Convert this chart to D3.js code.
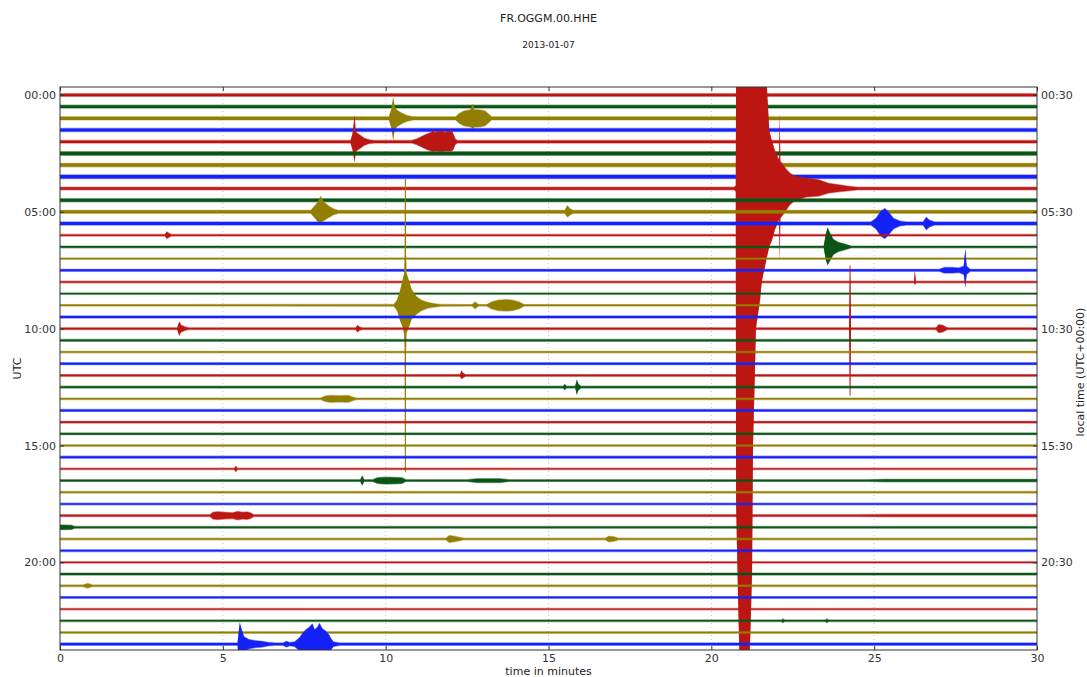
<!DOCTYPE html>
<html>
<head>
<meta charset="utf-8">
<script src="https://cdn.jsdelivr.net/npm/d3@7"></script>
<style>
  body { margin: 0; background: #fff; }
  svg { display: block; font-family: "DejaVu Sans", sans-serif; }
</style>
</head>
<body>
<svg id="chart" width="1087" height="677"></svg>
<script>
// Station and day shown in the heading
const stationTitle = "FR.OGGM.00.HHE";
const dayLabel = "2013-01-07";

// Axis ticks
const minuteTicks = [0, 5, 10, 15, 20, 25, 30];
const utcTickRows = [0, 10, 20, 30, 40];
const utcTickLabels = ["00:00", "05:00", "10:00", "15:00", "20:00"];
const localTickLabels = ["00:30", "05:30", "10:30", "15:30", "20:30"];

// Trace colours cycle every four half-hour rows
const traceColors = ["#BC1612", "#0A5516", "#927E00", "#1422F8"];

// Background noise half-amplitude of each half-hour row (in row spacings)
const noiseLevel = [
  0.17, 0.18, 0.19, 0.19, 0.17, 0.21, 0.21, 0.21, 0.17, 0.19, 0.19, 0.19,
  0.13, 0.13, 0.12, 0.14, 0.13, 0.12, 0.12, 0.14,
  0.13, 0.14, 0.12, 0.14, 0.13, 0.13, 0.12, 0.14, 0.13, 0.13, 0.12, 0.14,
  0.12, 0.13, 0.12, 0.13, 0.14, 0.13, 0.12, 0.13, 0.12, 0.14, 0.12, 0.13, 0.12, 0.13, 0.12, 0.16
];

// Teleseismic arrival on the 04:00 row: [minute, up, down]
const quake0400 = [
  [20.7, 0.17], [20.75, 0.3], [20.76, 9.5, 27], [20.82, 9.5, 35], [20.88, 9.5, 42],
  [21.15, 9.5, 42], [21.2, 9.5, 38], [21.25, 9.5, 33], [21.28, 9.5, 22],
  [21.34, 9.5, 15.5], [21.37, 9.5, 12], [21.5, 9.5, 9.5], [21.55, 9.5, 8],
  [21.7, 9, 6], [21.78, 5, 5], [21.86, 4.1, 4.5], [21.95, 3.3, 3.6],
  [22.08, 2.5, 2.7], [22.1, 6.5, 6.3], [22.12, 2.4, 2.6], [22.3, 1.7, 1.9],
  [22.4, 1.4, 1.5], [22.55, 1.1, 1.1], [22.9, 0.95, 0.8], [23.3, 0.8, 0.7],
  [23.6, 0.5, 0.45], [23.9, 0.38, 0.35], [24.2, 0.25], [24.5, 0.17]
];

// Local event on the 09:00 row with its long single-sample spike
const local0900 = [
  [10.25, 0.13], [10.35, 0.5], [10.45, 1.4], [10.52, 2.2, 1.9], [10.57, 2.8, 2.5],
  [10.585, 4.5, 4], [10.59, 10.9, 14.3], [10.62, 10.9, 14.3], [10.625, 4.5, 4],
  [10.64, 2.8, 2.4], [10.7, 2.3, 2.0], [10.8, 1.4, 1.2], [10.95, 0.8],
  [11.1, 0.5], [11.3, 0.3], [11.5, 0.2], [11.7, 0.13]
];

// Other transients: [row, [[minute, up, down], ...]]
const events = [
  [2, [[10.1, 0.19], [10.18, 0.9], [10.23, 1.85, 1.9], [10.28, 1.0], [10.35, 0.75], [10.5, 0.5], [10.65, 0.3], [10.85, 0.19]]],
  [2, [[12.15, 0.19], [12.25, 0.45], [12.4, 0.7], [12.6, 0.78], [12.68, 1.3, 0.9], [12.72, 0.8], [12.9, 0.78], [13.05, 0.7], [13.15, 0.45], [13.25, 0.19]]],
  [4, [[8.92, 0.17], [8.98, 0.7], [9.05, 2.3, 1.8], [9.08, 0.9], [9.15, 0.75], [9.25, 0.55], [9.35, 0.35], [9.5, 0.22], [9.65, 0.17]]],
  [4, [[10.8, 0.17], [10.95, 0.3], [11.1, 0.5], [11.25, 0.7], [11.4, 0.85], [11.45, 1.05, 0.9], [11.5, 0.85], [11.76, 1.0, 0.9], [11.8, 0.85], [12.03, 1.0, 0.85], [12.08, 0.7], [12.14, 0.3], [12.2, 0.17]]],
  [8, quake0400],
  [10, [[7.7, 0.19], [7.8, 0.5], [7.92, 0.9], [8.0, 1.4, 0.95], [8.1, 0.9, 0.8], [8.25, 0.55], [8.4, 0.3], [8.55, 0.19]]],
  [10, [[15.5, 0.19], [15.58, 0.6, 0.5], [15.65, 0.35], [15.75, 0.19]]],
  [11, [[24.9, 0.19], [25.05, 0.5], [25.2, 1.1], [25.33, 1.35], [25.45, 1.0], [25.6, 0.5], [25.8, 0.25], [26.0, 0.19]]],
  [11, [[26.5, 0.19], [26.6, 0.6], [26.7, 0.35], [26.85, 0.19]]],
  [12, [[3.22, 0.13], [3.28, 0.35], [3.33, 0.25], [3.42, 0.13]]],
  [13, [[23.45, 0.13], [23.52, 1.2], [23.57, 1.7, 1.6], [23.65, 1.2], [23.75, 0.7], [23.9, 0.45], [24.1, 0.3], [24.3, 0.13]]],
  [15, [[27.0, 0.14], [27.15, 0.3], [27.4, 0.3], [27.6, 0.25], [27.75, 0.4], [27.8, 1.9, 1.5], [27.84, 0.4], [27.95, 0.14]]],
  [16, [[26.22, 0.13], [26.25, 1.0, 0.3], [26.28, 0.13]]],
  [18, local0900],
  [18, [[12.65, 0.12], [12.75, 0.35], [12.85, 0.12]]],
  [18, [[13.1, 0.12], [13.25, 0.35], [13.45, 0.5], [13.7, 0.55], [13.9, 0.5], [14.1, 0.35], [14.25, 0.12]]],
  [20, [[3.6, 0.13], [3.66, 0.65], [3.72, 0.35], [3.85, 0.2], [3.95, 0.13]]],
  [20, [[9.08, 0.13], [9.13, 0.35], [9.2, 0.2], [9.28, 0.13]]],
  [20, [[24.23, 0.13], [24.25, 5.45, 5.77], [24.27, 5.45, 5.77], [24.29, 0.13]]],
  [20, [[26.9, 0.13], [26.98, 0.4], [27.1, 0.35], [27.25, 0.13]]],
  [24, [[12.28, 0.13], [12.33, 0.45, 0.35], [12.38, 0.25], [12.45, 0.13]]],
  [25, [[15.45, 0.13], [15.5, 0.3], [15.55, 0.13]]],
  [25, [[15.82, 0.13], [15.87, 0.7], [15.92, 0.3], [16.0, 0.13]]],
  [26, [[8.0, 0.12], [8.15, 0.3], [8.3, 0.35], [8.6, 0.33], [8.85, 0.35], [9.0, 0.2], [9.1, 0.12]]],
  [32, [[5.35, 0.12], [5.4, 0.3], [5.45, 0.12]]],
  [33, [[9.22, 0.13], [9.28, 0.47], [9.34, 0.13]]],
  [33, [[9.6, 0.13], [9.75, 0.3], [10.0, 0.35], [10.3, 0.33], [10.5, 0.3], [10.62, 0.13]]],
  [33, [[12.5, 0.13], [12.8, 0.22], [13.5, 0.22], [13.8, 0.13]]],
  [33, [[24.8, 0.13], [25.3, 0.165], [30, 0.165]]],
  [36, [[4.6, 0.14], [4.7, 0.35], [4.85, 0.4], [5.0, 0.35], [5.3, 0.3], [5.45, 0.42], [5.6, 0.35], [5.75, 0.38], [5.85, 0.3], [5.95, 0.14]]],
  [36, [[24.5, 0.14], [25.5, 0.16], [30, 0.16]]],
  [37, [[0, 0.26], [0.35, 0.24], [0.45, 0.13]]],
  [38, [[11.85, 0.12], [11.95, 0.35], [12.1, 0.3], [12.4, 0.12]]],
  [38, [[16.75, 0.12], [16.85, 0.3], [17.0, 0.25], [17.15, 0.12]]],
  [42, [[0.7, 0.12], [0.85, 0.25], [1.0, 0.12]]],
  [45, [[22.15, 0.13], [22.2, 0.22], [22.25, 0.13]]],
  [45, [[23.5, 0.13], [23.55, 0.22], [23.6, 0.13]]],
  [47, [[5.45, 0.16], [5.52, 1.9], [5.58, 1.3], [5.65, 0.7], [5.8, 0.45], [6.0, 0.35], [6.2, 0.3], [6.4, 0.2], [6.6, 0.16]]],
  [47, [[6.85, 0.16], [6.95, 0.3], [7.05, 0.2], [7.2, 0.25], [7.35, 0.6], [7.45, 1.0], [7.55, 1.3], [7.65, 1.5], [7.75, 1.8], [7.82, 1.3], [7.9, 1.5], [7.97, 1.85], [8.05, 1.4], [8.15, 1.2], [8.25, 0.9], [8.33, 0.5], [8.4, 0.25], [8.6, 0.16]]]
];

const rowCount = noiseLevel.length;

const svg = d3.select("#chart");
const plot = { left: 60, right: 1037, top: 87, bottom: 650 };

const x = d3.scaleLinear().domain([0, 30]).range([plot.left, plot.right]);
const y = d3.scaleLinear().domain([-0.685, 47.5]).range([plot.top, plot.bottom]);

// Headings
svg.append("text").attr("x", 548.5).attr("y", 22).attr("text-anchor", "middle")
  .attr("font-size", 11).attr("fill", "#222").text(stationTitle);
svg.append("text").attr("x", 548.5).attr("y", 48).attr("text-anchor", "middle")
  .attr("font-size", 9).attr("fill", "#222").text(dayLabel);

// Clip for traces
svg.append("defs").append("clipPath").attr("id", "plotClip")
  .append("rect").attr("x", plot.left).attr("y", plot.top)
  .attr("width", plot.right - plot.left).attr("height", plot.bottom - plot.top);

// Vertical dotted grid
svg.append("g").selectAll("line").data(minuteTicks.slice(1, -1)).join("line")
  .attr("x1", d => x(d)).attr("x2", d => x(d))
  .attr("y1", plot.top).attr("y2", plot.bottom)
  .attr("stroke", "#b8b8b8").attr("stroke-width", 0.8).attr("stroke-dasharray", "1,3");

// Build the envelope of one row: noise floor plus any transients
function rowEnvelope(row) {
  const n = noiseLevel[row];
  const rowEvents = events.filter(e => e[0] === row).map(e => e[1])
    .sort((a, b) => a[0][0] - b[0][0]);
  const pts = [];
  if (!rowEvents.length || rowEvents[0][0][0] > 0) pts.push([0, n, n]);
  rowEvents.forEach(env => env.forEach(p => {
    const up = Math.max(n, p[1]);
    const down = Math.max(n, p.length > 2 ? p[2] : p[1]);
    pts.push([p[0], up, down]);
  }));
  if (pts[pts.length - 1][0] < 30) pts.push([30, n, n]);
  return pts;
}

const fringe = 0.06;
const traces = svg.append("g").attr("clip-path", "url(#plotClip)");

for (let row = 0; row < rowCount; row++) {
  const pts = rowEnvelope(row);
  const color = traceColors[row % 4];
  const outer = d3.area()
    .x(d => x(d[0])).y1(d => y(row - d[1])).y0(d => y(row + d[2]));
  const inner = d3.area()
    .x(d => x(d[0]))
    .y1(d => y(row - Math.max(0.02, d[1] - fringe)))
    .y0(d => y(row + Math.max(0.02, d[2] - fringe)));
  traces.append("path").attr("d", outer(pts)).attr("fill", color).attr("opacity", 0.45);
  traces.append("path").attr("d", inner(pts)).attr("fill", color);
}

// Axes with inward ticks on all sides
const axisStyle = g => {
  g.select(".domain").remove();
  g.selectAll(".tick line").attr("stroke", "#333");
  g.selectAll(".tick text").attr("fill", "#333").attr("font-size", 11)
    .attr("font-family", "DejaVu Sans, sans-serif");
};

svg.append("g").attr("transform", `translate(0,${plot.bottom})`)
  .call(d3.axisBottom(x).tickValues(minuteTicks).tickSizeInner(-4).tickSizeOuter(0).tickPadding(4))
  .call(axisStyle);
svg.append("g").attr("transform", `translate(0,${plot.top})`)
  .call(d3.axisTop(x).tickValues(minuteTicks).tickSizeInner(-4).tickSizeOuter(0).tickFormat(""))
  .call(axisStyle);
svg.append("g").attr("transform", `translate(${plot.left},0)`)
  .call(d3.axisLeft(y).tickValues(utcTickRows).tickFormat((d, i) => utcTickLabels[i])
    .tickSizeInner(-4).tickSizeOuter(0).tickPadding(4))
  .call(axisStyle);
svg.append("g").attr("transform", `translate(${plot.right},0)`)
  .call(d3.axisRight(y).tickValues(utcTickRows).tickFormat((d, i) => localTickLabels[i])
    .tickSizeInner(-4).tickSizeOuter(0).tickPadding(4))
  .call(axisStyle);

// Frame
svg.append("rect").attr("x", plot.left).attr("y", plot.top)
  .attr("width", plot.right - plot.left).attr("height", plot.bottom - plot.top)
  .attr("fill", "none").attr("stroke", "#333").attr("stroke-width", 1);

// Axis titles
svg.append("text").attr("x", 548.5).attr("y", 675).attr("text-anchor", "middle")
  .attr("font-size", 11).attr("fill", "#222").text("time in minutes");
svg.append("text").attr("transform", "translate(21,368.5) rotate(-90)")
  .attr("text-anchor", "middle").attr("font-size", 11).attr("fill", "#222").text("UTC");
svg.append("text").attr("transform", "translate(1084,372) rotate(-90)")
  .attr("text-anchor", "middle").attr("font-size", 11).attr("fill", "#222")
  .text("local time (UTC+00:00)");
</script>
</body>
</html>
